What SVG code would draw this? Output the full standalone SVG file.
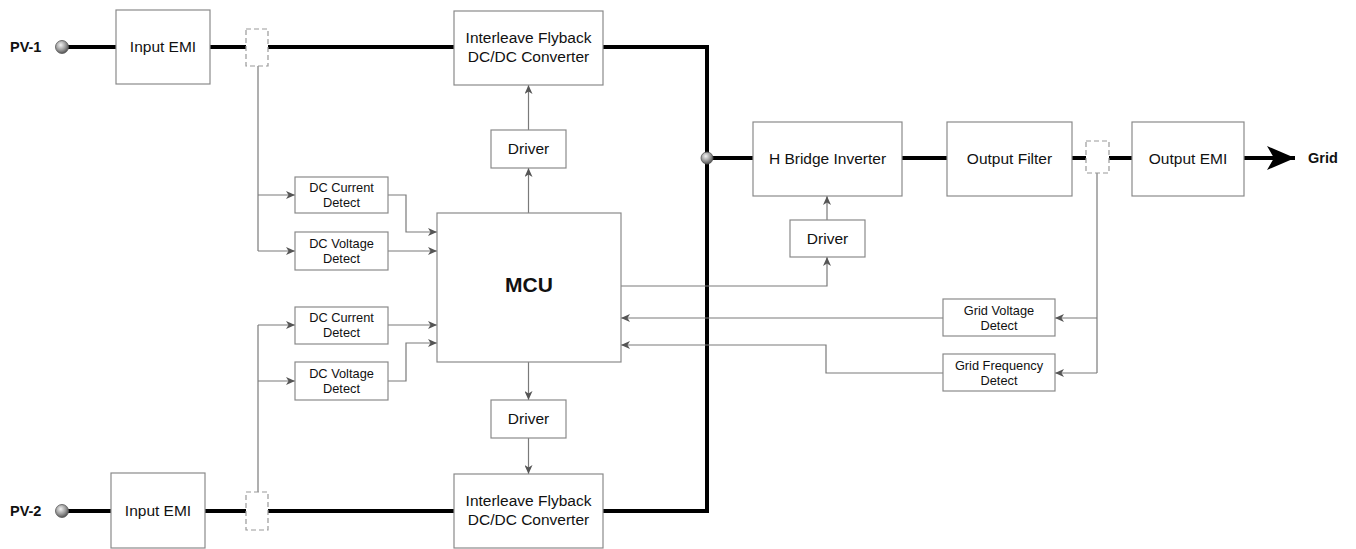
<svg xmlns="http://www.w3.org/2000/svg" width="1356" height="549" viewBox="0 0 1356 549">
  <style>
    .box { fill: #ffffff; stroke: #8a8a8a; stroke-width: 1.2; }
    .tap { fill: #ffffff; stroke: #999999; stroke-width: 1.2; stroke-dasharray: 5 3; }
    .bus { fill: none; stroke: #000000; stroke-width: 4; stroke-linejoin: miter; }
    .sig { fill: none; stroke: #7a7a7a; stroke-width: 1.2; }
    .arr { marker-end: url(#ah); }
    text { font-family: "Liberation Sans", Arial, sans-serif; fill: #111111; text-anchor: middle; }
    .t14 { font-size: 15.5px; }
    .t12 { font-size: 12.8px; }
    .lbl { font-size: 14.5px; font-weight: bold; text-anchor: start; }
  </style>
  <defs>
    <marker id="ah" markerWidth="10" markerHeight="8" refX="9" refY="4" orient="auto" markerUnits="userSpaceOnUse">
      <path d="M0,0 L9,4 L0,8 L2.5,4 Z" fill="#555555"/>
    </marker>
    <marker id="big" markerWidth="30" markerHeight="24" refX="28" refY="12" orient="auto" markerUnits="userSpaceOnUse">
      <path d="M0,0 L28,12 L0,24 L7,12 Z" fill="#000000"/>
    </marker>
    <radialGradient id="ball" cx="40%" cy="35%" r="65%">
      <stop offset="0" stop-color="#f2f2f2"/>
      <stop offset="0.6" stop-color="#9a9a9a"/>
      <stop offset="1" stop-color="#555555"/>
    </radialGradient>
  </defs>

  <!-- power path and signal wiring -->
  <g id="connectors">
    <!-- PV-1 power path -->
    <path class="bus" d="M62,47 H116"/>
    <path class="bus" d="M210,47 H454"/>
    <path class="bus" d="M603,47 H707 V511 H603"/>
    <!-- PV-2 power path -->
    <path class="bus" d="M62,511 H111"/>
    <path class="bus" d="M205,511 H454"/>
    <!-- DC link to output -->
    <path class="bus" d="M707,158 H753"/>
    <path class="bus" d="M902,158 H947"/>
    <path class="bus" d="M1072,158 H1132"/>
    <path class="bus" d="M1244,158 H1295" marker-end="url(#big)"/>

    <!-- PV-1 sensing -->
    <path class="sig" d="M258,66 V251"/>
    <path class="sig arr" d="M258,195 H295"/>
    <path class="sig arr" d="M258,251 H295"/>
    <path class="sig arr" d="M388,195 H406 V232 H437"/>
    <path class="sig arr" d="M388,251 H437"/>
    <!-- PV-2 sensing -->
    <path class="sig" d="M258,492 V325"/>
    <path class="sig arr" d="M258,325 H295"/>
    <path class="sig arr" d="M258,381 H295"/>
    <path class="sig arr" d="M388,325 H437"/>
    <path class="sig arr" d="M388,381 H406 V343 H437"/>

    <!-- gate drive paths -->
    <path class="sig arr" d="M528.5,213 V168"/>
    <path class="sig arr" d="M528.5,130 V85"/>
    <path class="sig arr" d="M528.5,362 V400"/>
    <path class="sig arr" d="M528.5,438 V474"/>
    <path class="sig arr" d="M621,286 H827 V257"/>
    <path class="sig arr" d="M827,220 V196"/>

    <!-- grid sensing -->
    <path class="sig" d="M1097,173 V373"/>
    <path class="sig arr" d="M1097,318 H1055"/>
    <path class="sig arr" d="M1097,373 H1055"/>
    <path class="sig arr" d="M943,318 H621"/>
    <path class="sig arr" d="M943,373 H826 V345 H621"/>
  </g>

  <!-- terminals -->
  <g id="pv1-terminal">
    <text class="lbl" x="10" y="52">PV-1</text>
    <circle cx="62" cy="47" r="6.5" fill="url(#ball)" stroke="#555" stroke-width="0.8"/>
  </g>
  <g id="pv2-terminal">
    <text class="lbl" x="10" y="516">PV-2</text>
    <circle cx="62" cy="511" r="6.5" fill="url(#ball)" stroke="#555" stroke-width="0.8"/>
  </g>
  <g id="dc-link-junction">
    <circle cx="707" cy="158" r="6" fill="url(#ball)" stroke="#555" stroke-width="0.8"/>
  </g>
  <g id="grid-terminal">
    <text class="lbl" x="1308" y="163">Grid</text>
  </g>

  <!-- current sensing taps -->
  <g id="tap-pv1"><rect class="tap" x="246" y="29" width="22" height="37"/></g>
  <g id="tap-pv2"><rect class="tap" x="246" y="492" width="22" height="38"/></g>
  <g id="tap-grid"><rect class="tap" x="1086" y="141" width="23" height="32"/></g>

  <!-- blocks -->
  <g id="input-emi-1">
    <rect class="box" x="116" y="10" width="94" height="74"/>
    <text class="t14" x="163" y="52">Input EMI</text>
  </g>
  <g id="input-emi-2">
    <rect class="box" x="111" y="473" width="94" height="75"/>
    <text class="t14" x="158" y="516">Input EMI</text>
  </g>
  <g id="flyback-1">
    <rect class="box" x="454" y="11" width="149" height="74"/>
    <text class="t14" x="528.5" y="43">Interleave Flyback</text>
    <text class="t14" x="528.5" y="62">DC/DC Converter</text>
  </g>
  <g id="flyback-2">
    <rect class="box" x="454" y="474" width="149" height="74"/>
    <text class="t14" x="528.5" y="506">Interleave Flyback</text>
    <text class="t14" x="528.5" y="525">DC/DC Converter</text>
  </g>
  <g id="driver-1">
    <rect class="box" x="491" y="130" width="75" height="38"/>
    <text class="t14" x="528.5" y="154">Driver</text>
  </g>
  <g id="driver-2">
    <rect class="box" x="491" y="400" width="75" height="38"/>
    <text class="t14" x="528.5" y="424">Driver</text>
  </g>
  <g id="mcu">
    <rect class="box" x="437" y="213" width="184" height="149"/>
    <text x="529" y="292" style="font-size:21px;font-weight:bold">MCU</text>
  </g>
  <g id="dc-current-1">
    <rect class="box" x="295" y="177" width="93" height="36"/>
    <text class="t12" x="341.5" y="192">DC Current</text>
    <text class="t12" x="341.5" y="207">Detect</text>
  </g>
  <g id="dc-voltage-1">
    <rect class="box" x="295" y="232" width="93" height="38"/>
    <text class="t12" x="341.5" y="248">DC Voltage</text>
    <text class="t12" x="341.5" y="263">Detect</text>
  </g>
  <g id="dc-current-2">
    <rect class="box" x="295" y="307" width="93" height="37"/>
    <text class="t12" x="341.5" y="322">DC Current</text>
    <text class="t12" x="341.5" y="337">Detect</text>
  </g>
  <g id="dc-voltage-2">
    <rect class="box" x="295" y="362" width="93" height="38"/>
    <text class="t12" x="341.5" y="378">DC Voltage</text>
    <text class="t12" x="341.5" y="393">Detect</text>
  </g>
  <g id="h-bridge">
    <rect class="box" x="753" y="122" width="149" height="74"/>
    <text class="t14" x="827.5" y="164">H Bridge Inverter</text>
  </g>
  <g id="driver-3">
    <rect class="box" x="790" y="220" width="75" height="37"/>
    <text class="t14" x="827.5" y="244">Driver</text>
  </g>
  <g id="output-filter">
    <rect class="box" x="947" y="122" width="125" height="74"/>
    <text class="t14" x="1009.5" y="164">Output Filter</text>
  </g>
  <g id="output-emi">
    <rect class="box" x="1132" y="122" width="112" height="74"/>
    <text class="t14" x="1188" y="164">Output EMI</text>
  </g>
  <g id="grid-voltage">
    <rect class="box" x="943" y="299" width="112" height="37"/>
    <text class="t12" x="999" y="315">Grid Voltage</text>
    <text class="t12" x="999" y="330">Detect</text>
  </g>
  <g id="grid-frequency">
    <rect class="box" x="943" y="354" width="112" height="37"/>
    <text class="t12" x="999" y="370">Grid Frequency</text>
    <text class="t12" x="999" y="385">Detect</text>
  </g>
</svg>
